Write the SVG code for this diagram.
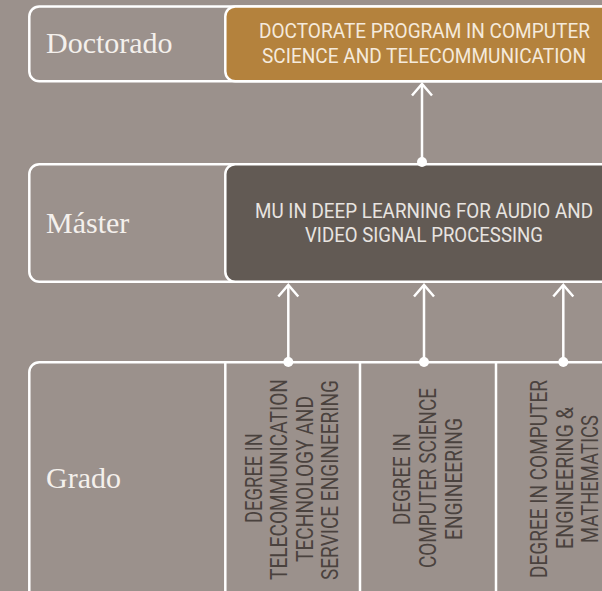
<svg xmlns="http://www.w3.org/2000/svg" width="602" height="591" viewBox="0 0 602 591">
  <style>
    .frame { fill: none; stroke: #ffffff; stroke-width: 2.5; }
    .gold { fill: #b4823d; stroke: #ffffff; stroke-width: 2.5; }
    .dark { fill: #625a54; stroke: #ffffff; stroke-width: 2.5; }
    .divider { stroke: #ffffff; stroke-width: 2.5; }
    .level { font-family: "Liberation Serif", "Times New Roman", serif; font-size: 30px; fill: #f4f0ec; }
    .prog { font-family: Roboto, "Liberation Sans", sans-serif; font-size: 20px; }
    .prog-gold { fill: #f4eadc; }
    .prog-dark { fill: #e8e4e0; }
    .deg { font-family: Roboto, "Liberation Sans", sans-serif; font-size: 23px; fill: #4a423e; text-anchor: middle; }
    .conn line { stroke: #ffffff; stroke-width: 2.5; }
    .conn polyline { fill: none; stroke: #ffffff; stroke-width: 2.5; stroke-linejoin: miter; }
    .conn circle { fill: #ffffff; }
  </style>
  <rect x="0" y="0" width="602" height="591" fill="#9b918c"/>

  <g id="doctorado">
    <rect class="frame" x="29.3" y="6.5" width="620" height="74.7" rx="10"/>
    <text class="level" x="46" y="53">Doctorado</text>
  </g>
  <g id="doctorate-program">
    <rect class="gold" x="225.3" y="6.5" width="420" height="74.7" rx="10"/>
    <text class="prog prog-gold" x="259" y="38" textLength="331" lengthAdjust="spacingAndGlyphs">DOCTORATE PROGRAM IN COMPUTER</text>
    <text class="prog prog-gold" x="262" y="63" textLength="324" lengthAdjust="spacingAndGlyphs">SCIENCE AND TELECOMMUNICATION</text>
  </g>

  <g id="master">
    <rect class="frame" x="29.3" y="164.3" width="620" height="117.5" rx="10"/>
    <text class="level" x="46" y="232.7">Máster</text>
  </g>
  <g id="mu-deep-learning">
    <rect class="dark" x="225.3" y="164.3" width="420" height="117.5" rx="10"/>
    <text class="prog prog-dark" x="255" y="218" textLength="338" lengthAdjust="spacingAndGlyphs">MU IN DEEP LEARNING FOR AUDIO AND</text>
    <text class="prog prog-dark" x="305" y="242" textLength="238" lengthAdjust="spacingAndGlyphs">VIDEO SIGNAL PROCESSING</text>
  </g>

  <g id="grado">
    <rect class="frame" x="29.3" y="362.3" width="620" height="260" rx="10"/>
    <text class="level" x="46" y="488">Grado</text>
  </g>
  <g id="degree-telecom">
    <line class="divider" x1="225.3" y1="362.3" x2="225.3" y2="591"/>
    <text class="deg" transform="translate(262,478) rotate(-90)" textLength="90" lengthAdjust="spacingAndGlyphs">DEGREE IN</text>
    <text class="deg" transform="translate(287,479.5) rotate(-90)" textLength="201" lengthAdjust="spacingAndGlyphs">TELECOMMUNICATION</text>
    <text class="deg" transform="translate(312.5,479) rotate(-90)" textLength="166" lengthAdjust="spacingAndGlyphs">TECHNOLOGY AND</text>
    <text class="deg" transform="translate(338,480) rotate(-90)" textLength="200" lengthAdjust="spacingAndGlyphs">SERVICE ENGINEERING</text>
  </g>
  <g id="degree-cs">
    <line class="divider" x1="360" y1="362.3" x2="360" y2="591"/>
    <text class="deg" transform="translate(410,479) rotate(-90)" textLength="92" lengthAdjust="spacingAndGlyphs">DEGREE IN</text>
    <text class="deg" transform="translate(436,478) rotate(-90)" textLength="180" lengthAdjust="spacingAndGlyphs">COMPUTER SCIENCE</text>
    <text class="deg" transform="translate(462,479) rotate(-90)" textLength="122" lengthAdjust="spacingAndGlyphs">ENGINEERING</text>
  </g>
  <g id="degree-ce-math">
    <line class="divider" x1="496" y1="362.3" x2="496" y2="591"/>
    <text class="deg" transform="translate(547,479) rotate(-90)" textLength="198" lengthAdjust="spacingAndGlyphs">DEGREE IN COMPUTER</text>
    <text class="deg" transform="translate(573,478) rotate(-90)" textLength="142" lengthAdjust="spacingAndGlyphs">ENGINEERING &amp;</text>
    <text class="deg" transform="translate(598,479) rotate(-90)" textLength="128" lengthAdjust="spacingAndGlyphs">MATHEMATICS</text>
  </g>

  <g id="connectors" class="conn">
    <line x1="422" y1="162" x2="422" y2="84"/>
    <polyline points="412,95.5 422,84 432,95.5"/>
    <circle cx="422" cy="162" r="5"/>

    <line x1="288.3" y1="362" x2="288.3" y2="285"/>
    <polyline points="278.3,296.5 288.3,285 298.3,296.5"/>
    <circle cx="288.3" cy="362" r="5"/>

    <line x1="424" y1="362" x2="424" y2="285"/>
    <polyline points="414,296.5 424,285 434,296.5"/>
    <circle cx="424" cy="362" r="5"/>

    <line x1="563.3" y1="362" x2="563.3" y2="285"/>
    <polyline points="553.3,296.5 563.3,285 573.3,296.5"/>
    <circle cx="563.3" cy="362" r="5"/>
  </g>
</svg>
